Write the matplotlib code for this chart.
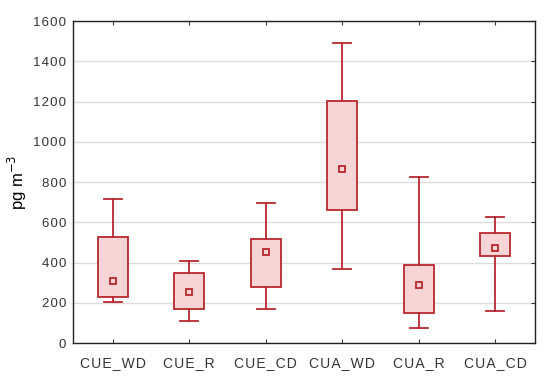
import matplotlib
matplotlib.use("Agg")
import matplotlib.pyplot as plt

categories = ["CUE_WD", "CUE_R", "CUE_CD", "CUA_WD", "CUA_R", "CUA_CD"]
whisker_low = [203, 109, 167, 368, 73, 160]
box_low = [228, 167, 280, 659, 147, 432]
means = [308, 252, 452, 865, 288, 473]
box_high = [528, 349, 518, 1204, 386, 545]
whisker_high = [715, 407, 697, 1492, 823, 628]
yticks = [0, 200, 400, 600, 800, 1000, 1200, 1400, 1600]

plt.rcParams['font.family'] = ['Liberation Sans', 'DejaVu Sans']
red = '#b8282e'
fill = '#f7d4d5'
sp = '\u200a'

def spaced(s):
    return sp.join(s)

fig = plt.figure(figsize=(5.5, 3.85), dpi=100)
ax = fig.add_axes([0.1327, 0.109, 0.84, 0.836])

stats = []
for i, c in enumerate(categories):
    stats.append(dict(label=c, whislo=whisker_low[i], q1=box_low[i], med=means[i],
                      q3=box_high[i], whishi=whisker_high[i], mean=means[i], fliers=[]))

ax.bxp(stats, positions=range(len(categories)), widths=0.39, patch_artist=True,
       showmeans=True, showfliers=False,
       boxprops=dict(facecolor=fill, edgecolor=red, linewidth=1.3),
       whiskerprops=dict(color=red, linewidth=1.3),
       capprops=dict(color=red, linewidth=1.3),
       capwidths=0.23,
       medianprops=dict(linewidth=0),
       meanprops=dict(marker='s', markersize=5, markerfacecolor='none',
                      markeredgecolor=red, markeredgewidth=1.3),
       zorder=3)

ax.set_xlim(-0.52, 5.52)
ax.set_ylim(0, 1600)
ax.set_yticks(yticks)
ax.set_yticklabels([spaced(str(v)) for v in yticks], fontsize=9.5, color='#333333')
ax.set_xticks(range(len(categories)))
ax.set_xticklabels([spaced(c) for c in categories], fontsize=10, color='#333333')
ax.yaxis.grid(True, color='#dcdcdc', linewidth=1.0, zorder=0)
ax.set_axisbelow(True)

ax.tick_params(axis='y', left=False, right=True, direction='in', length=3, color='#333333', pad=5)
ax.tick_params(axis='x', bottom=True, top=True, direction='in', length=3, color='#333333', pad=9)
for s in ax.spines.values():
    s.set_color('#222222')
    s.set_linewidth(1.0)

ax.set_ylabel(r'pg m$^{-3}$', fontsize=12, labelpad=3)

fig.savefig('out.png', dpi=100)
